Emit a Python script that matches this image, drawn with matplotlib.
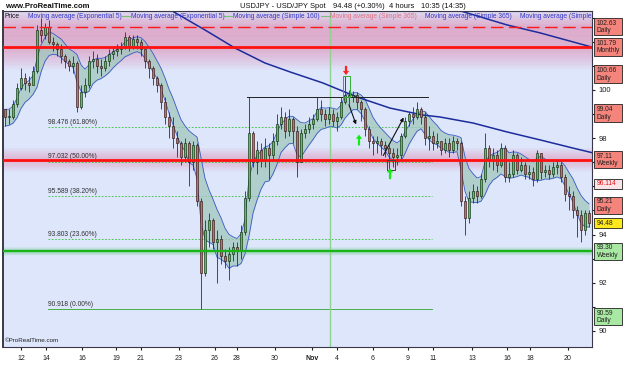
import numpy as np
import pandas as pd
import matplotlib
matplotlib.use("Agg")
from matplotlib import pyplot as plt
from matplotlib.patches import Rectangle

plt.rcParams['font.family'] = ['Liberation Sans', 'DejaVu Sans']

# USDJPY 4h candles (close / high / low), open = previous close
first_open = 99.2
closes = [98.9, 98.9, 99.4, 100.1, 100.5, 100.3, 100.2, 100.8, 102.5, 102.3, 102.6, 102.0,
          101.9, 101.7, 101.4, 101.2, 101.0, 101.1, 99.3, 99.9, 100.2, 101.2, 101.3, 101.0,
          100.9, 101.2, 101.5, 101.6, 101.7, 101.8, 102.2, 101.8, 102.1, 102.0, 101.7, 101.2,
          100.9, 100.5, 100.2, 99.5, 98.9, 98.5, 98.0, 97.8, 97.2, 97.8, 97.0, 97.7,
          95.4, 92.4, 94.2, 94.6, 93.7, 93.8, 93.1, 92.9, 93.2, 93.5, 93.3, 94.1,
          95.5, 98.2, 97.0, 97.5, 97.1, 97.6, 97.3, 97.9, 98.6, 98.9, 98.3, 98.8,
          98.3, 97.0, 98.2, 98.4, 98.6, 98.8, 99.2, 99.0, 98.8, 99.0, 98.7, 98.9,
          99.5, 99.8, 99.7, 99.8, 99.5, 99.2, 98.4, 97.9, 97.8, 97.9, 97.7, 97.6,
          97.4, 97.2, 97.3, 98.1, 98.7, 99.0, 98.9, 99.2, 98.9, 98.0, 98.1, 97.8,
          97.9, 97.5, 97.8, 97.5, 97.9, 97.8, 95.4, 94.7, 95.5, 95.8, 95.6, 96.3,
          97.6, 97.1, 97.3, 96.9, 97.6, 96.4, 96.5, 97.3, 96.7, 96.9, 96.5, 96.6,
          96.3, 97.4, 96.6, 96.7, 96.5, 96.8, 96.9, 96.4, 95.7, 95.6, 95.0, 94.8,
          94.2, 94.9, 94.48]
highs = [99.2, 99.2, 99.6, 100.3, 100.9, 100.7, 100.6, 101.0, 102.7, 103.0, 102.8, 102.9,
         102.2, 102.0, 101.9, 101.5, 101.3, 101.4, 101.2, 100.2, 100.5, 101.4, 101.6, 101.5,
         101.3, 101.4, 101.7, 101.8, 101.9, 102.0, 102.4, 102.3, 102.3, 102.3, 102.1, 101.7,
         101.3, 101.0, 100.6, 100.3, 99.7, 99.1, 98.9, 98.3, 97.9, 98.0, 97.9, 97.9,
         97.8, 95.5, 94.6, 94.9, 94.7, 94.2, 94.0, 93.4, 93.5, 93.7, 93.7, 94.4,
         95.8, 99.7, 98.3, 97.9, 97.8, 98.0, 97.8, 98.2, 99.0, 99.3, 99.1, 99.2,
         98.9, 98.5, 98.4, 98.6, 98.9, 99.0, 99.7, 99.6, 99.2, 99.3, 99.2, 99.1,
         99.7, 100.6, 100.0, 99.95, 99.9, 99.6, 99.3, 98.5, 98.1, 98.1, 98.0, 97.9,
         97.7, 97.6, 97.6, 98.2, 98.9, 99.1, 99.3, 99.5, 99.3, 99.1, 98.5, 98.3,
         98.2, 97.9, 98.0, 98.0, 98.1, 98.0, 97.9, 95.6, 95.8, 96.1, 96.0, 96.5,
         98.2, 97.7, 97.6, 97.5, 97.8, 97.7, 97.0, 97.5, 97.4, 97.2, 97.0, 96.9,
         96.8, 97.5, 97.4, 96.9, 96.9, 97.0, 97.1, 97.0, 96.5, 96.0, 95.8, 95.2,
         95.0, 95.0, 95.0]
lows = [98.5, 98.6, 98.8, 99.3, 100.0, 100.0, 99.9, 100.2, 100.7, 102.0, 102.1, 101.9,
        101.6, 101.4, 101.1, 100.9, 100.8, 100.7, 99.1, 99.2, 99.7, 100.1, 100.9, 100.7,
        100.6, 100.8, 101.0, 101.3, 101.4, 101.5, 101.7, 101.6, 101.7, 101.7, 101.4, 100.9,
        100.5, 100.2, 99.9, 99.2, 98.6, 98.0, 97.6, 97.2, 96.9, 97.0, 96.0, 96.7,
        95.2, 90.9, 92.3, 93.5, 93.4, 92.0, 92.8, 92.6, 92.1, 92.9, 92.7, 93.0,
        94.0, 95.4, 96.8, 96.5, 96.8, 96.8, 96.3, 97.1, 97.7, 98.4, 98.0, 98.1,
        97.8, 96.4, 97.0, 98.0, 98.2, 98.4, 98.7, 98.7, 98.5, 98.6, 98.5, 98.3,
        98.8, 99.4, 99.4, 99.5, 99.2, 98.7, 98.1, 97.6, 97.3, 97.4, 97.3, 97.2,
        96.7, 96.8, 96.9, 97.1, 98.0, 98.5, 98.6, 98.8, 98.6, 97.7, 97.5, 97.5,
        97.6, 97.3, 97.4, 97.2, 97.4, 97.5, 95.2, 94.0, 94.5, 95.3, 95.3, 95.5,
        96.2, 96.8, 96.7, 96.6, 96.8, 96.2, 96.2, 96.4, 96.5, 96.6, 96.3, 96.3,
        96.0, 96.2, 96.3, 96.4, 96.3, 96.4, 96.5, 96.2, 95.4, 95.0, 94.7, 93.9,
        93.7, 94.0, 94.3]

# long simple moving averages (candle index, value)
sma_a_x = [40, 50, 57.5, 65, 71.25, 79.5, 88, 96.25, 104.5, 108.75, 117, 125.5, 133.75, 142, 147]
sma_a_y = [103.45, 102.49, 101.74, 101.12, 100.75, 100.29, 99.71, 99.25, 98.96, 98.88,
           98.63, 98.26, 97.93, 97.59, 97.39]
sma_b_x = [112.5, 125.5, 133.75, 146.75]
sma_b_y = [103.35, 102.7, 102.37, 101.78]

# support / resistance levels
dashed_red = [102.63]
red_levels = [101.79, 97.11]
green_levels = [93.30]

# fibonacci retracement
fib_vals = [98.476, 97.032, 95.589, 93.803, 90.918]
fib_pct = ['61.80%', '50.00%', '38.20%', '23.60%', '0.00%']

# right hand price tags
tag_vals = [102.63, 101.79, 100.66, 99.04, 97.11, 96.114, 95.21, 94.48, 93.30, 90.59]
tag_kind = ['Daily', 'Monthly', 'Daily', 'Daily', 'Weekly', '', 'Daily', '', 'Weekly', 'Daily']
tag_face = ['#f4847c'] * 5 + ['#fbe4e8', '#f4847c', '#ffe81c', '#a8e8a2', '#a8e8a2']

# price axis: only the numbers not hidden behind the tags
price_ticks = list(range(90, 104))
price_shown = [90, 92, 94, 98, 100]

tick_labels = ['12', '14', '16', '19', '21', '23', '26', '28', '30', 'Nov',
               '4', '6', '9', '11', '13', '16', '18', '20']
tick_idx = [4.0, 10.25, 19.25, 27.75, 34, 43.5, 52.5, 58, 67.5, 76.75,
            83, 92, 100.75, 107, 116.75, 125.5, 131.25, 140.75]


def glow(ax, v, half, color, amax, layers=14):
    for k in range(layers):
        w = half * (1 - k / float(layers))
        ax.axhspan(v - w, v + w, color=color, alpha=amax / layers, lw=0, zorder=0.5)


fig = plt.figure(figsize=(6.25, 3.75), dpi=100)
ax = fig.add_axes([3 / 625., 1 - 347 / 375., 589 / 625., 336 / 375.])
ax.set_facecolor('#dde6fb')
ymin, ymax = 89.336, 103.278
ax.set_xlim(-0.5, 146.75)
ax.set_ylim(ymin, ymax)

glow(ax, 102.63, 0.75, '#e07aa6', 0.55)
glow(ax, 101.79, 0.95, '#e07aa6', 0.6)
glow(ax, 97.11, 0.5, '#e07aa6', 0.5)
glow(ax, 93.30, 0.18, '#30c040', 0.45)

# fibonacci
x0, x1 = 10.75, 106.75
for v, p in zip(fib_vals, fib_pct):
    if p == '0.00%':
        ax.plot([x0, x1], [v, v], color='#48b048', lw=0.7, zorder=1)
    else:
        ax.plot([x0, x1], [v, v], color='#30c030', lw=0.6, ls=(0, (2, 2)), zorder=1)
    ax.text(x0, v + 0.05, '%.3f (%s)' % (v, p), fontsize=4.8, color='#303030',
            va='bottom', ha='left', zorder=1)

# candles
n = len(closes)
x = np.arange(n)
c = np.array(closes)
h = np.array(highs)
l = np.array(lows)
o = np.array([first_open] + closes[:-1])
up = c >= o

ema_h = pd.Series(highs).ewm(span=5, adjust=False).mean()
ema_l = pd.Series(lows).ewm(span=5, adjust=False).mean()
ax.fill_between(x, ema_l, ema_h, color='#a2c6bc', alpha=0.75, lw=0, zorder=2)
ax.plot(x, ema_h, color='#3a5ac8', lw=0.6, zorder=2.1)
ax.plot(x, ema_l, color='#3a5ac8', lw=0.6, zorder=2.1)

ax.plot(sma_a_x, sma_a_y, color='#1c2c9c', lw=1.1, zorder=2.2)
ax.plot(sma_b_x, sma_b_y, color='#1c2c9c', lw=1.1, zorder=2.2)

ax.vlines(x, l, h, color='#303030', lw=0.6, zorder=3)
body = np.where(np.abs(c - o) < 0.04, 0.04, c - o)
ax.bar(x[up], body[up], bottom=o[up], width=0.72, color='#2ee02e',
       edgecolor='#101010', lw=0.4, zorder=3.1)
ax.bar(x[~up], body[~up], bottom=o[~up], width=0.72, color='#f05a50',
       edgecolor='#101010', lw=0.4, zorder=3.1)

# horizontal levels
for v in dashed_red:
    ax.axhline(v, color='#ff1a1a', lw=1.0, ls=(0, (9, 4)), zorder=4)
for v in red_levels:
    ax.axhline(v, color='#ff1010', lw=2.0, zorder=4)
for v in green_levels:
    ax.axhline(v, color='#18b418', lw=1.6, zorder=4)

# drawings
ax.axvline(81.25, color='#8fd28f', lw=1.0, zorder=1.5)
ax.plot([60.5, 105.75], [99.7, 99.7], color='#202020', lw=0.7, zorder=4)
ax.add_patch(Rectangle((84.5, 99.7), 1.75, 0.9, fill=False, ec='#30b030', lw=0.7, zorder=4))
ax.add_patch(Rectangle((95.5, 96.7), 2.0, 0.4, fill=False, ec='#404040', lw=0.7, zorder=4))
ax.annotate('', xy=(88, 98.46), xytext=(85.75, 99.5),
            arrowprops=dict(arrowstyle='-|>', color='#101010', lw=0.8,
                            mutation_scale=5), zorder=5)
ax.annotate('', xy=(100, 98.96), xytext=(94.25, 97.18),
            arrowprops=dict(arrowstyle='-|>', color='#101010', lw=0.8,
                            mutation_scale=5), zorder=5)
ax.annotate('', xy=(85.25, 100.62), xytext=(85.25, 101.0),
            arrowprops=dict(facecolor='#ff2020', edgecolor='none', width=1.6,
                            headwidth=4.5, headlength=3), zorder=5)
ax.annotate('', xy=(88.5, 98.15), xytext=(88.5, 97.7),
            arrowprops=dict(facecolor='#10ee10', edgecolor='none', width=1.6,
                            headwidth=4.5, headlength=3), zorder=5)
ax.annotate('', xy=(96.25, 96.75), xytext=(96.25, 96.3),
            arrowprops=dict(facecolor='#10ee10', edgecolor='none', width=1.6,
                            headwidth=4.5, headlength=3), zorder=5)

# axes styling
ax.yaxis.tick_right()
ax.set_yticks(price_ticks)
ax.set_yticklabels([str(t) if t in price_shown else '' for t in price_ticks])
ax.tick_params(axis='y', length=2.5, pad=2, labelsize=5.5, colors='#202020')
ax.set_xticks(tick_idx)
ax.set_xticklabels(tick_labels)
ax.tick_params(axis='x', length=2.5, pad=3, labelsize=5, colors='#202020')
for t in ax.get_xticklabels():
    if t.get_text() == 'Nov':
        t.set_fontweight('bold')
for s in ax.spines.values():
    s.set_color('#383848')
    s.set_linewidth(0.8)
ax.spines['left'].set_linewidth(1.4)

# legend row
leg = [(0.003, 'Price', '#101010'),
       (0.042, 'Moving average (Exponential 5)', '#3038c8'),
       (0.218, 'Moving average (Exponential 5)', '#3038c8'),
       (0.391, 'Moving average (Simple 160)', '#3038c8'),
       (0.555, 'Moving average (Simple 365)', '#e07080'),
       (0.717, 'Moving average (Simple 365)', '#3038c8'),
       (0.878, 'Moving average (Simple 365)', '#3038c8')]
for xp, txt, col in leg:
    ax.text(xp, 0.984, txt, transform=ax.transAxes, fontsize=4.8, color=col,
            va='center', ha='left', zorder=6, clip_on=True)
for xa, xb in [(0.202, 0.218), (0.374, 0.391), (0.540, 0.555)]:
    ax.plot([xa, xb], [0.984, 0.984], transform=ax.transAxes, color='#60c060', lw=0.6, zorder=6)
ax.text(0.004, 0.012, u'\u00a9ProRealTime.com', transform=ax.transAxes, fontsize=4.5,
        color='#202020', va='bottom', ha='left', zorder=6)

# price tags on the right
lab = fig.add_axes([593 / 625., 1 - 347 / 375., 30 / 625., 336 / 375.])
lab.set_xlim(0, 1)
lab.set_ylim(ymin, ymax)
lab.axis('off')
for v, kind, face in zip(tag_vals, tag_kind, tag_face):
    hh = 0.72 if kind else 0.42
    lab.add_patch(Rectangle((0.03, v - hh / 2), 0.94, hh, fc=face, ec='#202020', lw=0.6))
    tcol = '#e01818' if face == '#fbe4e8' else '#202020'
    fmt = '%.3f' % v if v == 96.114 else '%.2f' % v
    if kind:
        lab.text(0.12, v + 0.15, fmt, fontsize=4.8, color=tcol, va='center', ha='left')
        lab.text(0.12, v - 0.17, kind, fontsize=4.8, color=tcol, va='center', ha='left')
    else:
        lab.text(0.12, v, fmt, fontsize=4.8, color=tcol, va='center', ha='left')

# header
fig.text(5 / 625., 1 - 6 / 375., 'www.ProRealTime.com', fontsize=5.6, fontweight='bold',
         color='#101010', va='center', ha='left')
fig.text(240 / 625., 1 - 6 / 375., 'USDJPY - USD/JPY Spot', fontsize=5.4, color='#101010',
         va='center', ha='left')
fig.text(333 / 625., 1 - 6 / 375., '94.48 (+0.30%)', fontsize=5.4, color='#101010',
         va='center', ha='left')
fig.text(389 / 625., 1 - 6 / 375., '4 hours', fontsize=5.4, color='#101010',
         va='center', ha='left')
fig.text(421 / 625., 1 - 6 / 375., '10:35 (14:35)', fontsize=5.4, color='#101010',
         va='center', ha='left')

fig.savefig('out.png', dpi=100)
